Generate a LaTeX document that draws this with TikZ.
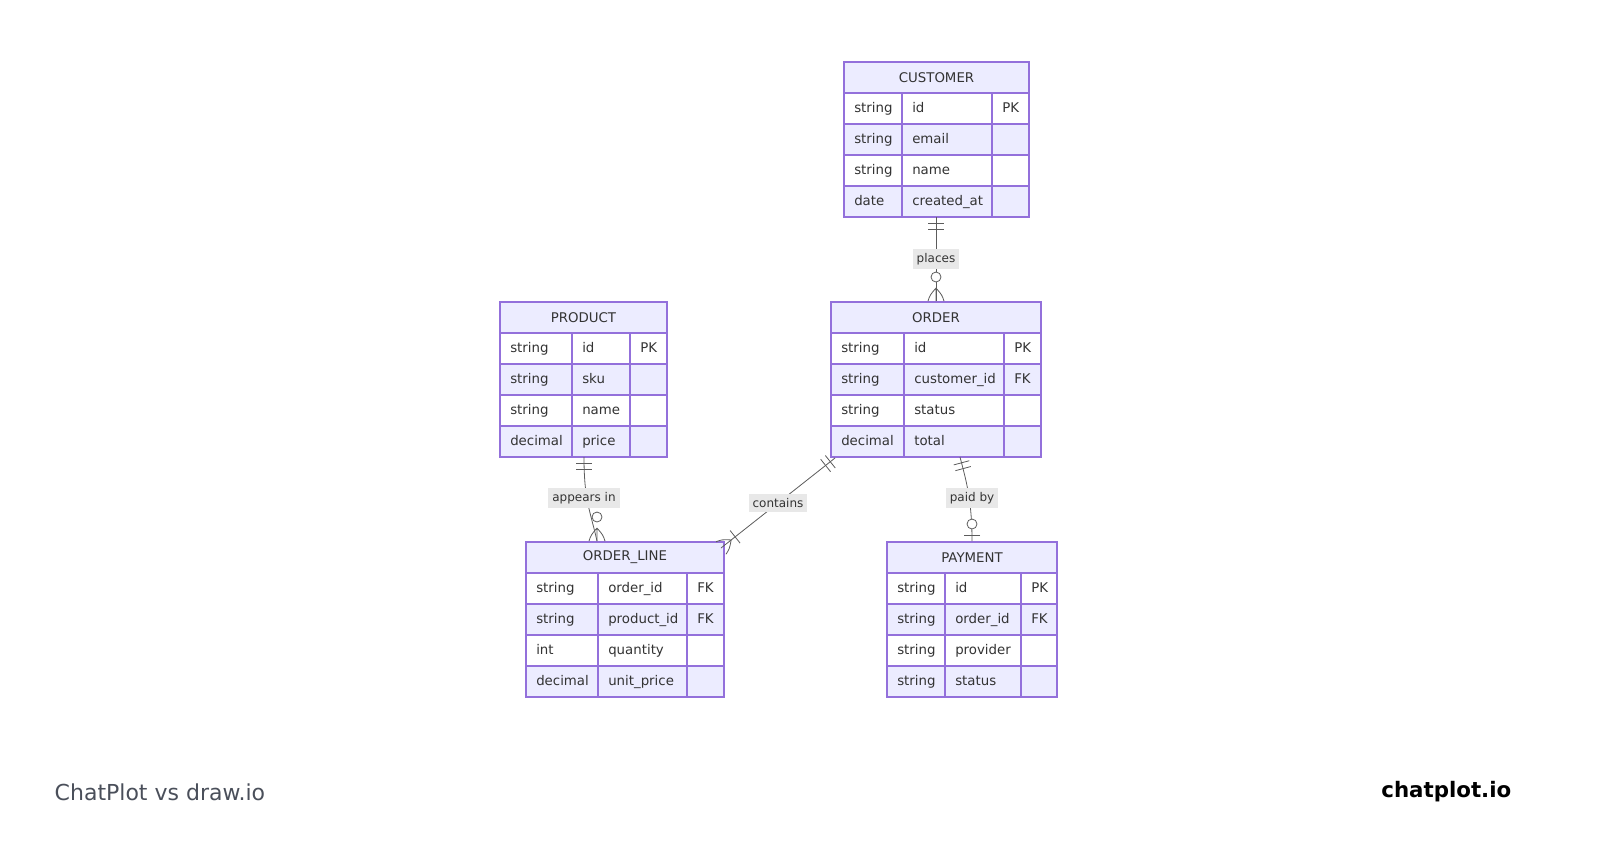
\documentclass[tikz,border=0pt]{standalone}
\usepackage{fontspec}
\setmainfont{DejaVu Sans}
\definecolor{lav}{HTML}{ECECFF}
\definecolor{edge}{HTML}{9370DB}
\definecolor{ink}{HTML}{333333}
\definecolor{relbg}{HTML}{E8E8E8}
\definecolor{footgray}{HTML}{4A4F5A}

% one ER table: name, x0, col1, col2, x1, y0, title, rows
\newcommand{\erbox}[8]{%
  \fill[lav] (#2,#6) rectangle (#5,#6+31);
  \node[ttl] (#1) at ({(#2+#5)/2},#6+15.5) {#7};
  \foreach \ty/\fd/\ky [count=\i] in {#8} {
    \ifodd\i \def\rc{white}\else\def\rc{lav}\fi
    \fill[\rc] (#2,#6+31*\i) rectangle (#5,#6+31*\i+31);
    \draw[grid] (#2,#6+31*\i) -- (#5,#6+31*\i);
    \draw[grid] (#3,#6+31*\i) -- (#3,#6+31*\i+31);
    \draw[grid] (#4,#6+31*\i) -- (#4,#6+31*\i+31);
    \node[cell] (#1-t\i) at (#2+10,#6+31*\i+15.5) {\ty};
    \node[cell] (#1-f\i) at (#3+10,#6+31*\i+15.5) {\fd};
    \node[cell] (#1-k\i) at (#4+10,#6+31*\i+15.5) {\ky};
  }
  \draw[grid] (#2,#6) rectangle (#5,#6+155);
}
% cardinality marks, local frame: line leaves the table along +y
\newcommand{\onlyone}{\draw[rel] (-8,6) -- (8,6) (-8,12) -- (8,12);}
\newcommand{\zeromany}{\draw[rel] (0,13) .. controls (-6,6) .. (-8,0) (0,13) .. controls (6,6) .. (8,0) (0,13) -- (0,0);
  \draw[rel,fill=white] (0,24) circle (5);}
\newcommand{\onemany}{\draw[rel] (0,13) .. controls (-6,6) .. (-8,0) (0,13) .. controls (6,6) .. (8,0) (-8,18) -- (8,18);}
\newcommand{\zeroone}{\draw[rel] (-8,6) -- (8,6); \draw[rel,fill=white] (0,17) circle (5);}

\begin{document}
\begin{tikzpicture}[x=0.75pt,y=-0.75pt,
    grid/.style={draw=edge,line width=0.9pt},
    ttl/.style={font=\fontsize{10}{12}\selectfont,text=ink},
    cell/.style={anchor=west,font=\fontsize{10}{12}\selectfont,text=ink,inner sep=0pt,text height=7.5pt,text depth=2pt},
    rel/.style={draw=ink!80,line width=0.6pt},
    lbl/.style={fill=relbg,text=ink,font=\fontsize{9}{10}\selectfont,inner sep=3pt}]
  \useasboundingbox (0,0) rectangle (1600,840);

  \erbox{cu}{844}{902}{992}{1029}{62}{CUSTOMER}{string/id/PK, string/email/, string/name/, date/created\_at/}
  \erbox{pr}{500}{572}{630}{667}{302}{PRODUCT}{string/id/PK, string/sku/, string/name/, decimal/price/}
  \erbox{or}{831}{904}{1004}{1041}{302}{ORDER}{string/id/PK, string/customer\_id/FK, string/status/, decimal/total/}
  \erbox{ol}{526}{598}{687}{724}{542}{ORDER\_LINE}{string/order\_id/FK, string/product\_id/FK, int/quantity/, decimal/unit\_price/}
  \erbox{pa}{887}{945}{1021}{1057}{542}{PAYMENT}{string/id/PK, string/order\_id/FK, string/provider/, string/status/}

  % end points
  \coordinate (cu-b) at (936,217);
  \coordinate (or-t) at (936,301);
  \coordinate (pr-b) at (584,457);
  \coordinate (ol-t) at (597,541);
  \coordinate (or-bl) at (835,458);
  \coordinate (ol-tr) at (721,548);
  \coordinate (or-b) at (960,457);
  \coordinate (pa-t) at (972,541);

  \draw[rel] (cu-b) -- node[lbl] (places) {places} (or-t);
  \draw[rel] (pr-b) .. controls (584,500) and (590,510) .. (ol-t);
  \node[lbl] (appears) at (584,498) {appears in};
  \draw[rel] (or-bl) -- node[lbl] (contains) {contains} (ol-tr);
  \draw[rel] (or-b) .. controls (966,480) and (972,500) .. (pa-t);
  \node[lbl] (paid) at (972,498) {paid by};

  \begin{scope}[shift={(cu-b)}]\onlyone\end{scope}
  \begin{scope}[shift={(or-t)},rotate=180]\zeromany\end{scope}
  \begin{scope}[shift={(pr-b)}]\onlyone\end{scope}
  \begin{scope}[shift={(ol-t)},rotate=180]\zeromany\end{scope}
  \begin{scope}[shift={(or-bl)},rotate=-51.6]\onlyone\end{scope}
  \begin{scope}[shift={(ol-tr)},rotate=128.4]\onemany\end{scope}
  \begin{scope}[shift={(or-b)},rotate=15]\onlyone\end{scope}
  \begin{scope}[shift={(pa-t)},rotate=180]\zeroone\end{scope}

  \node[anchor=west,text=footgray,font=\fontsize{16.5}{19}\selectfont] (foot) at (50,792) {ChatPlot vs draw.io};
  \node[anchor=east,font=\bfseries\fontsize{16}{19}\selectfont] (brand) at (1516,792) {chatplot.io};
\end{tikzpicture}
\end{document}
